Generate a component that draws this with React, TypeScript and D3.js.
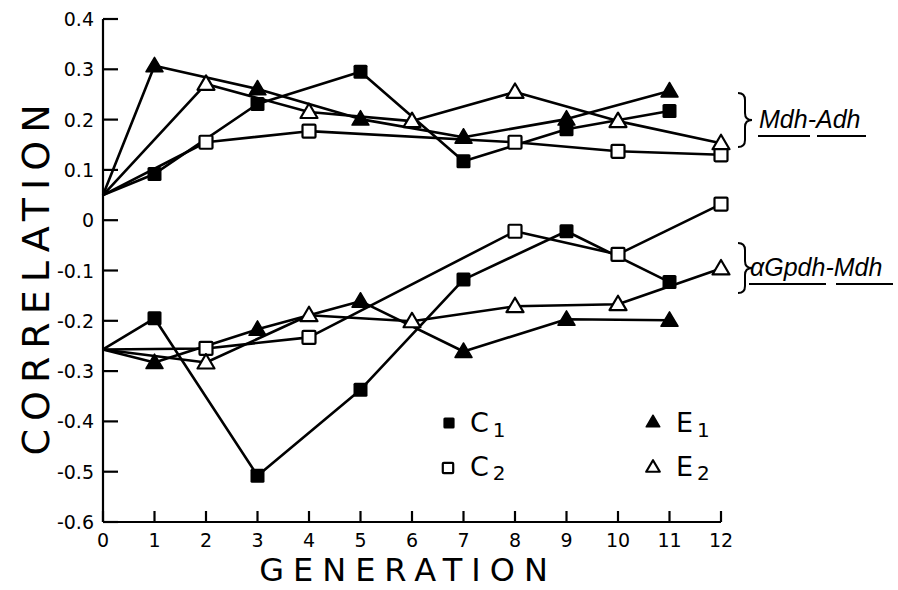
import React from "react";
import * as d3 from "d3";

const oddGenerations = [0, 1, 3, 5, 7, 9, 11];
const evenGenerations = [0, 2, 4, 6, 8, 10, 12];
const c2Generations = [0, 2, 4, 8, 10, 12];

// Mdh-Adh
const mdhAdhC1 = [0.05, 0.092, 0.231, 0.295, 0.117, 0.181, 0.217];
const mdhAdhE1 = [0.05, 0.307, 0.261, 0.201, 0.165, 0.201, 0.257];
const mdhAdhC2 = [0.05, 0.155, 0.177, 0.155, 0.137, 0.13];
const mdhAdhE2 = [0.05, 0.271, 0.215, 0.197, 0.255, 0.197, 0.153];

// αGpdh-Mdh
const gpdhMdhC1 = [-0.257, -0.195, -0.508, -0.337, -0.118, -0.022, -0.123];
const gpdhMdhE1 = [-0.257, -0.283, -0.217, -0.161, -0.261, -0.197, -0.199];
const gpdhMdhC2 = [-0.257, -0.255, -0.233, -0.022, -0.068, 0.032];
const gpdhMdhE2 = [-0.257, -0.283, -0.189, -0.201, -0.171, -0.167, -0.096];

const yTicks = [0.4, 0.3, 0.2, 0.1, 0, -0.1, -0.2, -0.3, -0.4, -0.5, -0.6];
const yTickLabels = ["0.4", "0.3", "0.2", "0.1", "0", "-0.1", "-0.2", "-0.3", "-0.4", "-0.5", "-0.6"];
const xTicks = [0, 1, 2, 3, 4, 5, 6, 7, 8, 9, 10, 11, 12];

type Kind = "C1" | "C2" | "E1" | "E2";

const series: { kind: Kind; gens: number[]; vals: number[] }[] = [
  { kind: "C2", gens: c2Generations, vals: mdhAdhC2 },
  { kind: "E2", gens: evenGenerations, vals: mdhAdhE2 },
  { kind: "C1", gens: oddGenerations, vals: mdhAdhC1 },
  { kind: "E1", gens: oddGenerations, vals: mdhAdhE1 },
  { kind: "C2", gens: c2Generations, vals: gpdhMdhC2 },
  { kind: "E2", gens: evenGenerations, vals: gpdhMdhE2 },
  { kind: "C1", gens: oddGenerations, vals: gpdhMdhC1 },
  { kind: "E1", gens: oddGenerations, vals: gpdhMdhE1 },
];

const FONT = "'DejaVu Sans', sans-serif";

function Marker({ kind, cx, cy, small }: { kind: Kind; cx: number; cy: number; small?: boolean }) {
  const k = small ? 0.8 : 1;
  if (kind === "C1") {
    const h = 7 * k;
    return <rect x={cx - h} y={cy - h} width={2 * h} height={2 * h} rx={1.5} fill="#000" />;
  }
  if (kind === "C2") {
    const h = 6.5 * k;
    return <rect x={cx - h} y={cy - h} width={2 * h} height={2 * h} rx={1} fill="#fff" stroke="#000" strokeWidth={2.2} />;
  }
  const s = 8.5 * k;
  const pts = `${cx},${cy - s} ${cx - s},${cy + s * 0.7} ${cx + s},${cy + s * 0.7}`;
  if (kind === "E1") {
    return <polygon points={pts} fill="#000" stroke="#000" strokeWidth={1.5} strokeLinejoin="round" />;
  }
  return <polygon points={pts} fill="#fff" stroke="#000" strokeWidth={2.2} strokeLinejoin="round" />;
}

function bracePath(x: number, y1: number, y2: number, w: number) {
  const mid = (y1 + y2) / 2;
  const r = 7;
  const xm = x + w / 2;
  return `M${x},${y1} Q${xm},${y1} ${xm},${y1 + r} L${xm},${mid - r} Q${xm},${mid} ${x + w},${mid} Q${xm},${mid} ${xm},${mid + r} L${xm},${y2 - r} Q${xm},${y2} ${x},${y2}`;
}

export default function App() {
  const x = d3.scaleLinear().domain([0, 12]).range([103, 721]);
  const y = d3.scaleLinear().domain([-0.6, 0.4]).range([522, 19]);
  const line = d3
    .line<[number, number]>()
    .x((d) => x(d[0]))
    .y((d) => y(d[1]));

  return (
    <svg
      width={898}
      height={590}
      viewBox="0 0 898 590"
      style={{ position: "absolute", left: 0, top: 0, background: "#fff" }}
    >
      <rect width={898} height={590} fill="#fff" />
      {/* axes */}
      <g stroke="#000" strokeWidth={2.2} fill="none">
        <line x1={x(0)} y1={y(0.4)} x2={x(0)} y2={y(-0.6)} />
        <line x1={x(0)} y1={y(-0.6)} x2={x(12)} y2={y(-0.6)} />
        {yTicks.map((t) => (
          <line key={"yt" + t} x1={x(0)} x2={x(0) + 15} y1={y(t)} y2={y(t)} />
        ))}
        {xTicks.map((t) => (
          <line key={"xt" + t} x1={x(t)} x2={x(t)} y1={y(-0.6)} y2={y(-0.6) - 11} />
        ))}
      </g>
      <g fontFamily={FONT} fontSize={19} fill="#000">
        {yTicks.map((t, i) => (
          <text key={"yl" + t} x={x(0) - 9} y={y(t) + 7} textAnchor="end">
            {yTickLabels[i]}
          </text>
        ))}
        {xTicks.map((t) => (
          <text key={"xl" + t} x={x(t)} y={y(-0.6) + 25} textAnchor="middle">
            {String(t)}
          </text>
        ))}
      </g>
      {/* axis titles */}
      <text
        x={408}
        y={581}
        textAnchor="middle"
        fontFamily={FONT}
        fontSize={32}
        letterSpacing={9}
      >
        GENERATION
      </text>
      <text
        transform="translate(49,276) rotate(-90)"
        textAnchor="middle"
        fontFamily={FONT}
        fontSize={38}
        letterSpacing={8}
      >
        CORRELATION
      </text>
      {/* lines */}
      <g fill="none" stroke="#000" strokeWidth={2.6} strokeLinejoin="round">
        {series.map((s, i) => (
          <path key={"l" + i} d={line(s.gens.map((g, j) => [g, s.vals[j]] as [number, number])) || ""} />
        ))}
      </g>
      {/* markers */}
      {series.map((s, i) => (
        <g key={"m" + i}>
          {s.gens.map((g, j) =>
            g === 0 ? null : <Marker key={j} kind={s.kind} cx={x(g)} cy={y(s.vals[j])} />
          )}
        </g>
      ))}
      {/* braces and labels */}
      <g fill="none" stroke="#000" strokeWidth={2}>
        <path d={bracePath(738, 93, 147, 14)} />
        <path d={bracePath(738, 243, 293, 14)} />
      </g>
      <g fontFamily="'Liberation Sans', sans-serif" fontStyle="italic" fontSize={25} fill="#000">
        <text x={759} y={128}>
          Mdh-Adh
        </text>
        <text x={750} y={276}>
          αGpdh-Mdh
        </text>
      </g>
      <g stroke="#000" strokeWidth={2.2}>
        <line x1={758} x2={810} y1={136} y2={136} />
        <line x1={817} x2={866} y1={136} y2={136} />
        <line x1={749} x2={826} y1={284} y2={284} />
        <line x1={836} x2={893} y1={284} y2={284} />
      </g>
      {/* legend */}
      <Marker kind="C1" cx={449} cy={423} small />
      <Marker kind="C2" cx={448} cy={468} small />
      <Marker kind="E1" cx={653} cy={422} small />
      <Marker kind="E2" cx={653} cy={467} small />
      <g fontFamily={FONT} fontSize={27} fill="#000">
        <text x={470} y={432}>
          C<tspan fontSize={20} dy={5} dx={4}>1</tspan>
        </text>
        <text x={470} y={476}>
          C<tspan fontSize={20} dy={4} dx={4}>2</tspan>
        </text>
        <text x={676} y={432}>
          E<tspan fontSize={20} dy={5} dx={4}>1</tspan>
        </text>
        <text x={676} y={476}>
          E<tspan fontSize={20} dy={4} dx={4}>2</tspan>
        </text>
      </g>
    </svg>
  );
}
